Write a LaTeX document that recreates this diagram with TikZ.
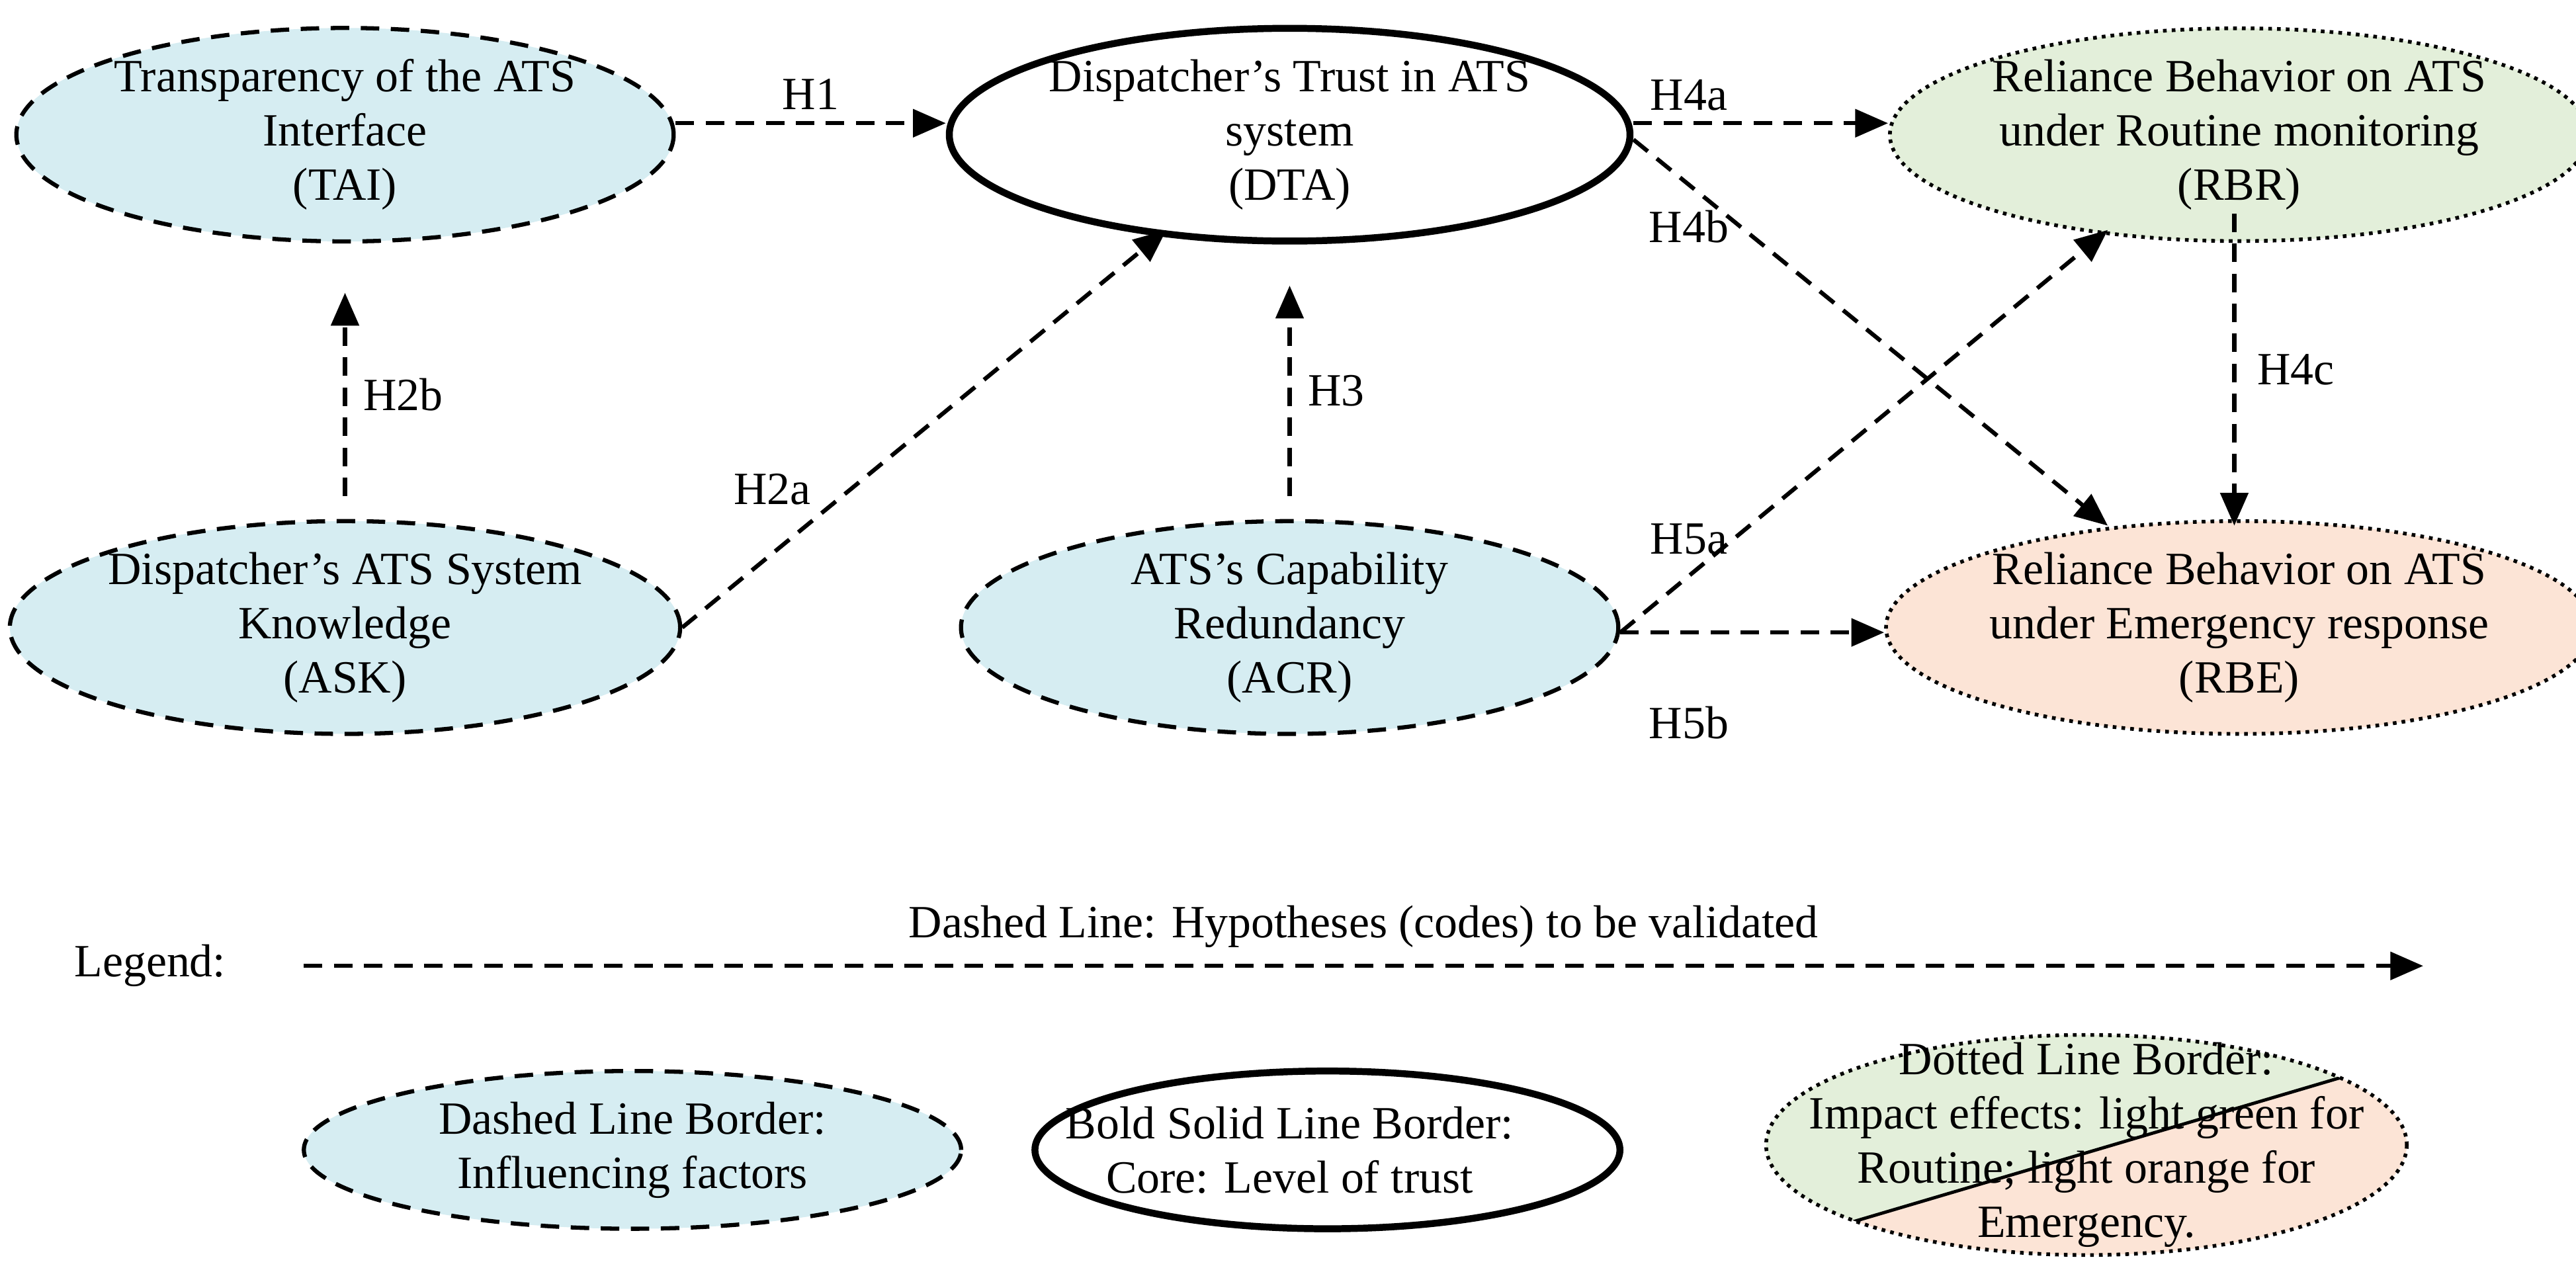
\documentclass[tikz,border=0pt]{standalone}
\usepackage{fontspec}
\setmainfont{Liberation Serif}
\usetikzlibrary{shapes.geometric,arrows.meta,calc}
\definecolor{infl}{HTML}{D6EDF2}
\definecolor{routine}{HTML}{E3EFDA}
\definecolor{emerg}{HTML}{FCE4D6}
\begin{document}
\begin{tikzpicture}[x=0.025cm,y=-0.025cm,
  every node/.style={font=\fontsize{20}{23.5}\selectfont, align=center},
  ell/.style={ellipse, minimum width=10cm, minimum height=2.4cm, inner sep=0pt},
  factor/.style={ell, draw, line width=1.8pt, dash pattern=on 8pt off 5pt, fill=infl},
  core/.style={ell, draw, line width=3pt, fill=white},
  effect/.style={ell, draw, line width=1.6pt, dash pattern=on 1.6pt off 2.2pt},
  hyp/.style={line width=1.8pt, dash pattern=on 8pt off 5pt, -{Triangle[length=0.5cm,width=0.42cm]}},
  lab/.style={inner sep=1pt}]
\useasboundingbox (0,0) rectangle (1568,774);
% ellipses
\node[factor] (tai) at (210,82) {Transparency of the ATS\\Interface\\(TAI)};
\node[core, minimum height=2.6cm] (dta) at (785,82) {Dispatcher’s Trust in ATS\\system\\(DTA)};
\node[effect, fill=routine] (rbr) at (1363,82) {Reliance Behavior on ATS\\under Routine monitoring\\(RBR)};
\node[factor] (ask) at (210,382) {Dispatcher's ATS System\\Knowledge\\(ASK)};
\node[factor] (acr) at (785,382) {ATS’s Capability\\Redundancy\\(ACR)};
\node[effect, fill=emerg] (rbe) at (1363,382) {Reliance Behavior on ATS\\under Emergency response\\(RBE)};
% hypotheses
\coordinate (dtaL) at ($(dta.center)+(-75,58)$);
\coordinate (rbrL) at ($(rbr.center)+(-80,58)$);
\coordinate (rbeT) at ($(rbe.center)+(-80,-62)$);
\coordinate (rbeV) at ($(rbe.center)+(-3,-62)$);
\coordinate (rbrB) at ($(rbr.center)+(-3,48)$);
\draw[hyp] ($(tai.east)+(0,-7)$) -- ($(dta.west)+(0,-7)$) node[lab, midway, above=4pt] {H1};
\draw[hyp] (ask.east) -- (dtaL);
\node[lab] (h2a) at (470,298) {H2a};
\draw[hyp] ($(ask.north)+(0,-14)$) -- ($(tai.south)+(0,30)$) node[lab, midway, right=6pt] {H2b};
\draw[hyp] ($(acr.north)+(0,-14)$) -- ($(dta.south)+(0,25)$) node[lab, midway, right=6pt] {H3};
\draw[hyp] ($(dta.east)+(0,-7)$) -- ($(rbr.west)+(0,-7)$);
\node[lab] (h4a) at (1028,58) {H4a};
\draw[hyp] ($(dta.east)+(0,3)$) -- (rbeT);
\node[lab] (h4b) at (1028,138) {H4b};
\draw[hyp] (rbrB) -- (rbeV) node[lab, midway, right=8pt] {H4c};
\draw[hyp] ($(acr.east)+(0,3)$) -- (rbrL);
\node[lab] (h5a) at (1028,328) {H5a};
\draw[hyp] ($(acr.east)+(0,3)$) -- ($(rbe.west)+(0,3)$);
\node[lab] (h5b) at (1028,440) {H5b};
% legend
\node[anchor=west, inner sep=0pt] (leg) at (45,588) {Legend:};
\coordinate (la) at (185,588);
\coordinate (lb) at (1475,588);
\draw[hyp] (la) -- (lb) node[lab, midway, above=6pt] {Dashed Line: Hypotheses (codes) to be validated};
\node[factor] (lf) at (385,700) {Dashed Line Border:\\Influencing factors};
\node[core, minimum width=8.9cm] (lc) at (808,700) {\hspace*{-1.15cm}Bold Solid Line Border:\\\hspace*{-1.15cm}Core: Level of trust};
\begin{scope}
  \clip (1270,697) ellipse (195 and 67);
  \fill[emerg] (1050,600) rectangle (1490,790);
  \fill[routine] (1050,600) -- (1050,760) -- (1100,752) -- (1445,650) -- (1490,600) -- cycle;
  \draw[line width=1.4pt] (1100,752) -- (1445,650);
\end{scope}
\draw[line width=1.6pt, dash pattern=on 1.6pt off 2.2pt] (1270,697) ellipse (195 and 67);
\node[inner sep=0pt] (le) at (1270,697)
  {Dotted Line Border:\\Impact effects: light green for\\Routine; light orange for\\Emergency.};
\end{tikzpicture}
\end{document}
